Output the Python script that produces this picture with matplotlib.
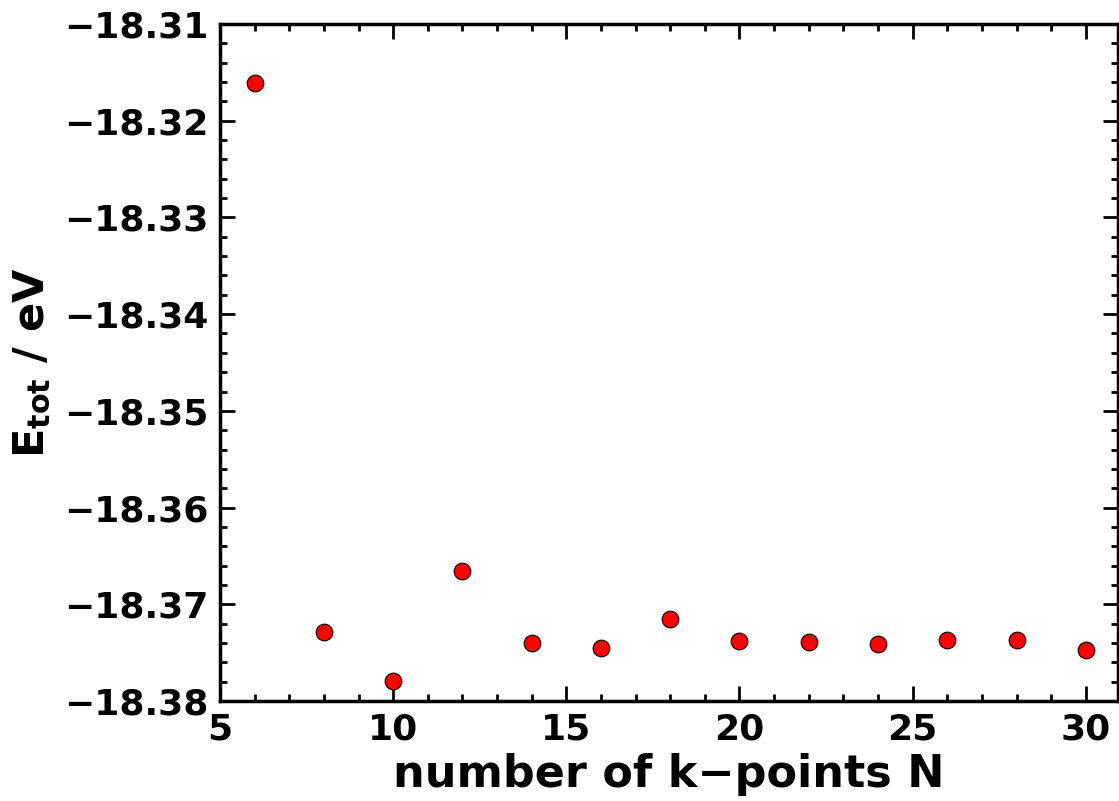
import matplotlib
matplotlib.use("Agg")
import matplotlib.pyplot as plt
from matplotlib.ticker import MultipleLocator

# k-point convergence data
n_kpoints = [6, 8, 10, 12, 14, 16, 18, 20, 22, 24, 26, 28, 30]
e_tot = [-18.3161, -18.37288, -18.37794, -18.36657, -18.37401, -18.37453,
         -18.37153, -18.37381, -18.37391, -18.37412, -18.37370, -18.37370,
         -18.37474]

plt.rcParams['font.family'] = ['DejaVu Sans']
plt.rcParams['font.weight'] = 'bold'
plt.rcParams['mathtext.default'] = 'bf'

fig = plt.figure(figsize=(11.19, 8.01), dpi=100)
ax = fig.add_axes([220 / 1119, 100 / 801, 898 / 1119, 677 / 801])

ax.plot(n_kpoints, e_tot, 'o', color='red', markeredgecolor='black',
        markeredgewidth=0.8, markersize=12)

ax.set_xlim(5, 30.93)
ax.set_ylim(-18.38, -18.31)
ax.xaxis.set_major_locator(MultipleLocator(5))
ax.xaxis.set_minor_locator(MultipleLocator(1))
ax.yaxis.set_major_locator(MultipleLocator(0.01))
ax.yaxis.set_minor_locator(MultipleLocator(0.002))
ax.yaxis.set_major_formatter(plt.FuncFormatter(lambda v, p: f"\u2212{abs(v):.2f}"))

ax.tick_params(which='both', direction='in', top=True, right=True, width=2)
ax.tick_params(which='major', length=11, labelsize=26, pad=8)
ax.tick_params(which='minor', length=5)
for lbl in ax.get_xticklabels() + ax.get_yticklabels():
    lbl.set_fontweight('bold')
for sp in ax.spines.values():
    sp.set_linewidth(2.5)

ax.set_xlabel('number of k\u2212points N', fontsize=32, fontweight='bold', labelpad=5)
ax.set_ylabel(r'$\mathbf{E_{tot}}$ / eV', fontsize=31, fontweight='bold', labelpad=8)

fig.savefig('out.png', dpi=100)
